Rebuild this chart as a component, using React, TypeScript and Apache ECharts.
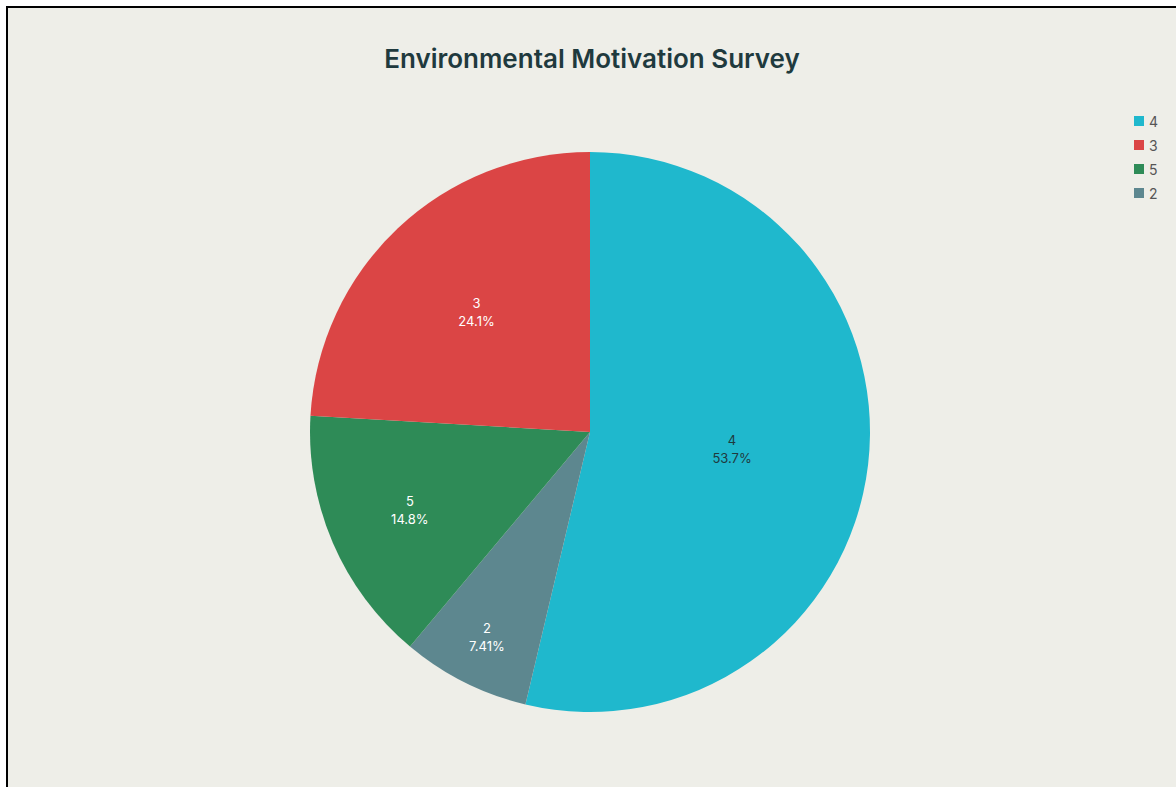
import React, { useEffect, useRef } from "react";
import * as echarts from "echarts";

const titleText = "Environmental Motivation Survey";
// clockwise from 12 o'clock
const categories = ["4", "2", "5", "3"];
const counts = [29, 4, 8, 13];
const legendOrder = ["4", "3", "5", "2"];
const colors = ["#1fb8cd", "#5d878f", "#2e8b57", "#db4545"];
const labelColors = ["#1f3a3e", "#ffffff", "#ffffff", "#ffffff"];
// label distance from centre as a fraction of the radius
const labelRadiusFrac = [0.5, 0.81, 0.69, 0.58];

const RADIUS = 280;

export default function App() {
  const ref = useRef<HTMLDivElement>(null);
  useEffect(() => {
    if (!ref.current) return;
    document.body.style.overflow = "hidden";
    const chart = echarts.init(ref.current, undefined, { renderer: "svg" });
    const total = counts.reduce((a, b) => a + b, 0);
    let acc = 0;
    const data = categories.map((c, i) => {
      const mid = ((acc + counts[i] / 2) / total) * Math.PI * 2;
      acc += counts[i];
      const extra = (labelRadiusFrac[i] - 0.5) * RADIUS;
      return {
        name: c,
        value: counts[i],
        itemStyle: { color: colors[i] },
        label: {
          color: labelColors[i],
          offset: [extra * Math.sin(mid), -extra * Math.cos(mid)],
        },
      };
    });
    chart.setOption({
      animation: false,
      backgroundColor: "#eeeee8",
      title: {
        text: titleText,
        left: "center",
        top: 32,
        textStyle: {
          fontFamily: "Inter",
          fontSize: 26,
          fontWeight: 600,
          color: "#1f3a3e",
        },
      },
      legend: {
        data: legendOrder,
        orient: "vertical",
        left: 1121,
        top: 101,
        itemWidth: 10,
        itemHeight: 10,
        itemGap: 10,
        icon: "rect",
        textStyle: { fontFamily: "Inter", fontSize: 14, color: "#555" },
      },
      series: [
        {
          type: "pie",
          center: [582, 424],
          radius: [0, RADIUS],
          startAngle: 90,
          clockwise: true,
          avoidLabelOverlap: false,
          label: {
            show: true,
            position: "inside",
            fontFamily: "Inter",
            fontSize: 13,
            lineHeight: 18,
            formatter: (p: any) =>
              `${p.name}\n${Number((p.value / total * 100).toPrecision(3))}%`,
          },
          labelLine: { show: false },
          emphasis: { disabled: true },
          data,
        },
      ],
    });
    return () => chart.dispose();
  }, []);
  return (
    <div
      style={{
        position: "absolute",
        left: 6,
        top: 6,
        borderLeft: "2px solid #000",
        borderTop: "2px solid #000",
      }}
    >
      <div ref={ref} style={{ width: 1168, height: 779 }} />
    </div>
  );
}
